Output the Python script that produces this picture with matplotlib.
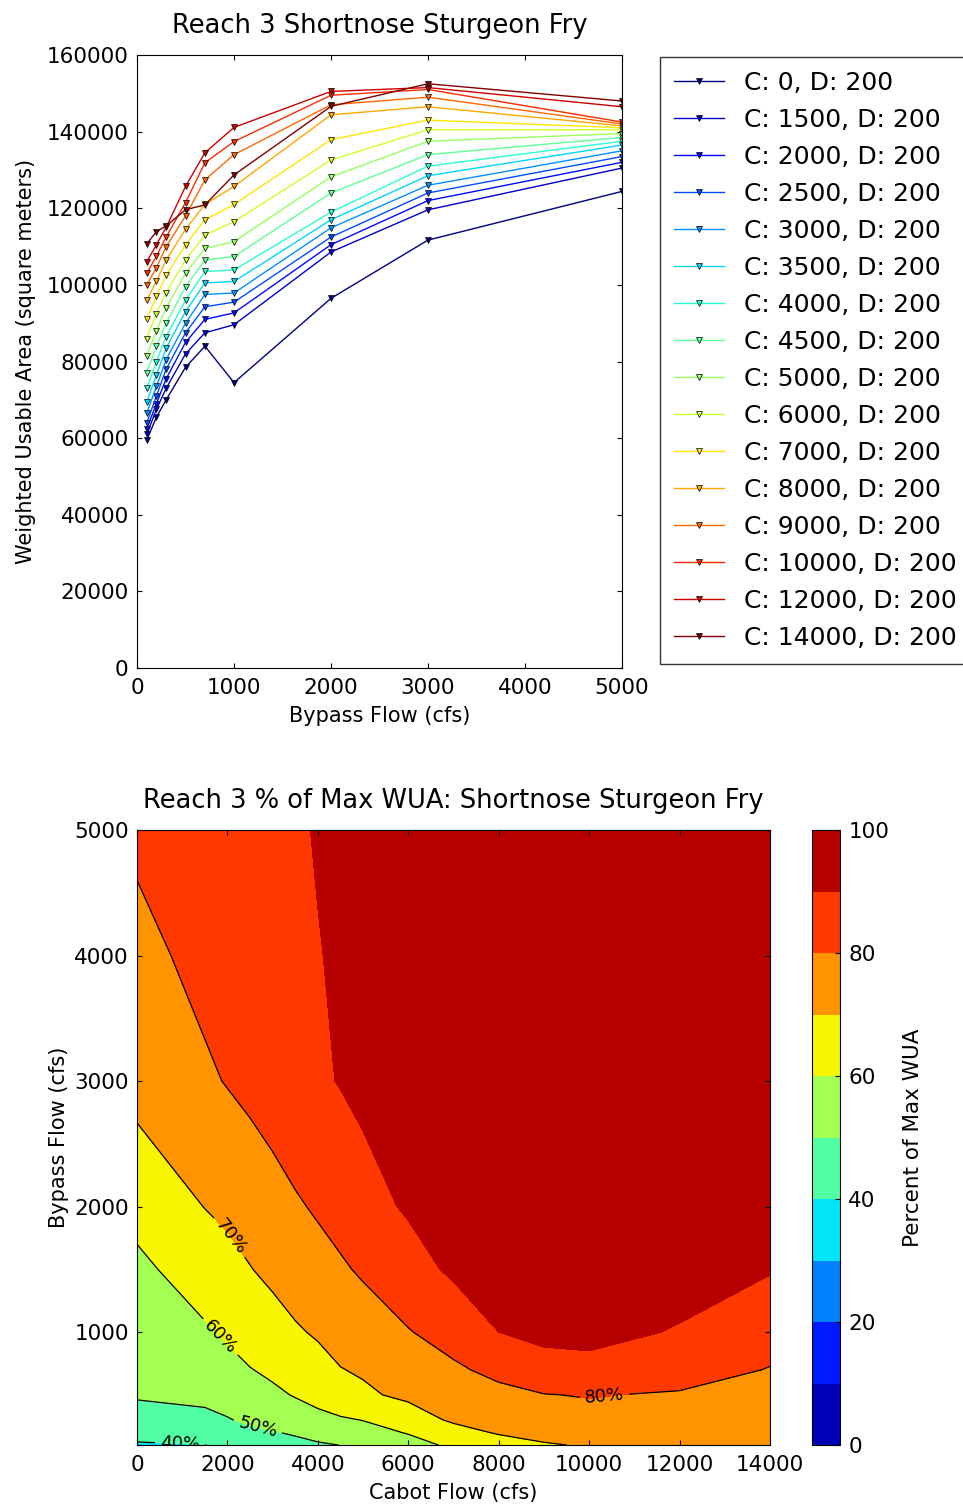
import numpy as np
import matplotlib
matplotlib.use('Agg')
from matplotlib import pyplot as plt

# Bypass flows sampled for the WUA curves
bypass = [100, 200, 300, 500, 700, 1000, 2000, 3000, 5000]

# Cabot flows (one curve each, D: 200)
cabot = [0, 1500, 2000, 2500, 3000, 3500, 4000, 4500, 5000, 6000, 7000, 8000, 9000, 10000, 12000, 14000]

# Weighted usable area (thousand square meters)
wua_c0 = [59.5, 65.5, 70.0, 78.5, 84.0, 74.5, 96.5, 111.7, 124.4]
wua_c1500 = [61.0, 67.5, 73.0, 82.0, 87.5, 89.6, 108.6, 119.6, 130.5]
wua_c2000 = [62.5, 69.0, 75.5, 85.0, 91.0, 92.7, 110.5, 122.0, 132.0]
wua_c2500 = [64.0, 71.0, 78.0, 87.5, 94.3, 95.5, 112.5, 124.0, 133.5]
wua_c3000 = [66.5, 73.5, 80.5, 90.0, 97.5, 97.9, 114.9, 126.0, 135.0]
wua_c3500 = [69.5, 76.5, 83.5, 93.0, 100.5, 100.9, 117.0, 128.5, 136.5]
wua_c4000 = [73.0, 80.0, 86.5, 96.0, 103.5, 103.9, 119.0, 131.0, 137.5]
wua_c4500 = [77.0, 84.0, 90.0, 99.5, 106.5, 107.4, 124.0, 134.0, 138.5]
wua_c5000 = [81.5, 88.0, 94.0, 103.0, 109.5, 111.3, 128.2, 137.5, 139.5]
wua_c6000 = [86.0, 92.5, 98.0, 106.5, 113.0, 116.5, 132.6, 140.5, 140.5]
wua_c7000 = [91.0, 97.0, 102.5, 110.5, 117.0, 121.0, 137.9, 143.0, 141.0]
wua_c8000 = [96.0, 101.0, 106.5, 114.5, 121.0, 125.7, 144.4, 146.5, 141.5]
wua_c9000 = [100.0, 104.5, 110.0, 118.0, 127.4, 134.0, 147.0, 149.0, 142.0]
wua_c10000 = [103.0, 107.5, 112.5, 121.5, 131.9, 137.4, 149.5, 151.0, 142.5]
wua_c12000 = [106.0, 110.5, 115.0, 125.7, 134.5, 141.1, 150.5, 151.5, 146.5]
wua_c14000 = [110.7, 113.9, 115.4, 119.6, 120.9, 128.7, 146.6, 152.5, 148.0]

wua_series = [wua_c0, wua_c1500, wua_c2000, wua_c2500, wua_c3000, wua_c3500,
              wua_c4000, wua_c4500, wua_c5000, wua_c6000, wua_c7000, wua_c8000,
              wua_c9000, wua_c10000, wua_c12000, wua_c14000]

# Percent of max WUA grid for the contour plot (rows: bypass, cols: cabot)
grid_bypass = [100, 200, 300, 500, 700, 1000, 1500, 2000, 3000, 4000, 5000]
pct_b100 = [39, 39.9, 41.5, 43.5, 45.5, 47.5, 49, 50.1, 52, 57, 61.5, 65, 69, 71, 72, 71]
pct_b200 = [43, 45, 46.5, 48, 49.5, 51, 53, 55.5, 57, 60.5, 66, 71, 73.5, 75, 74, 72]
pct_b300 = [46, 48, 49.5, 51.5, 54, 56, 57.5, 59, 60.2, 65, 71.5, 74, 76, 77, 76, 74]
pct_b500 = [51, 52, 53.5, 56, 58.5, 60.5, 63, 66, 68.5, 72, 75, 77.5, 79.7, 80.5, 79, 76.5]
pct_b700 = [52, 56, 58, 59.7, 61.5, 64.5, 67, 69.7, 71, 74.5, 78.5, 82.5, 87, 88, 85, 79.5]
pct_b1000 = [55, 59, 61, 64, 66.5, 69, 71, 73.5, 76, 79.5, 84, 90, 92, 92, 89.5, 85]
pct_b1500 = [58, 64.5, 67, 69.7, 72, 74.5, 77, 79, 81, 86.5, 91.5, 94, 95, 95, 93, 90.5]
pct_b2000 = [63, 70.2, 72, 74, 76.5, 79, 81, 83, 87, 91, 94, 96, 97, 97.5, 97, 96]
pct_b3000 = [73.5, 78.5, 80.5, 82.5, 84.5, 86.5, 88.5, 90.5, 92, 94, 96, 97, 98, 98, 98, 97]
pct_b4000 = [77, 83, 84, 85.5, 87, 88.5, 89.7, 91, 92.5, 94, 96, 97, 98, 98, 98, 97]
pct_b5000 = [82, 85, 86, 87, 88, 89, 90.5, 92, 93, 95, 96, 97, 98, 98, 97, 97]

# where the contour labels sit (cabot, bypass)
label_spots = [(950, 135), (2680, 260), (1900, 980), (2060, 1760), (10350, 450)]

plt.rcParams['xtick.direction'] = 'in'
plt.rcParams['ytick.direction'] = 'in'
plt.rcParams['xtick.top'] = True
plt.rcParams['ytick.right'] = True
plt.rcParams['font.family'] = ['DejaVu Sans']

fig = plt.figure(figsize=(9.63, 15.07), dpi=100)
ax1 = fig.add_axes([0.1423, 0.5567, 0.5036, 0.4068])
ax2 = fig.add_axes([0.1423, 0.0411, 0.6573, 0.4081])
cax = fig.add_axes([0.8432, 0.0411, 0.0291, 0.4081])

# Top: WUA vs bypass flow
colors = plt.cm.jet(np.linspace(0, 1, len(cabot)))
for c, vals, col in zip(cabot, wua_series, colors):
    ax1.plot(bypass, np.array(vals) * 1000, color=col, marker='v', markersize=5,
             markeredgecolor='k', markeredgewidth=0.5,
             linewidth=1, label='C: %d, D: 200' % c)
ax1.set_xlim(0, 5000)
ax1.set_ylim(0, 160000)
ax1.set_xticks(range(0, 5001, 1000))
ax1.set_yticks(range(0, 160001, 20000))
ax1.tick_params(axis='x', labelsize=15.5, pad=7)
ax1.tick_params(axis='y', labelsize=15.5, pad=6)
ax1.set_title('Reach 3 Shortnose Sturgeon Fry', fontsize=18.5, pad=16)
ax1.set_xlabel('Bypass Flow (cfs)', fontsize=15, labelpad=6)
ax1.set_ylabel('Weighted Usable Area (square meters)', fontsize=15, labelpad=8)
ax1.legend(loc='upper left', bbox_to_anchor=(660 / 963, 1 - 57 / 1507),
           bbox_transform=fig.transFigure, fontsize=18, fancybox=False,
           edgecolor='k', labelspacing=0.52, borderpad=0.55, handlelength=2.0,
           handletextpad=0.8, borderaxespad=0)

# Bottom: percent of max WUA contour
pct = np.array([pct_b100, pct_b200, pct_b300, pct_b500, pct_b700, pct_b1000,
                pct_b1500, pct_b2000, pct_b3000, pct_b4000, pct_b5000])
X, Y = np.meshgrid(cabot, grid_bypass)
levels = np.arange(0, 101, 10)
cf = ax2.contourf(X, Y, pct, levels=levels, cmap='jet')
cs = ax2.contour(X, Y, pct, levels=[40, 50, 60, 70, 80], colors='k', linewidths=0.9)
ax2.clabel(cs, fmt='%d%%', fontsize=13, manual=label_spots)
ax2.set_xlim(0, 14000)
ax2.set_ylim(100, 5000)
ax2.set_xticks(range(0, 14001, 2000))
ax2.set_yticks(range(1000, 5001, 1000))
ax2.tick_params(axis='x', labelsize=15.5, pad=7)
ax2.tick_params(axis='y', labelsize=15.5, pad=6)
ax2.set_title('Reach 3 % of Max WUA: Shortnose Sturgeon Fry', fontsize=18.5, pad=16)
ax2.set_xlabel('Cabot Flow (cfs)', fontsize=15, labelpad=6)
ax2.set_ylabel('Bypass Flow (cfs)', fontsize=15)

cb = fig.colorbar(cf, cax=cax, ticks=range(0, 101, 20))
cb.ax.tick_params(labelsize=15.5, pad=6)
cb.set_label('Percent of Max WUA', fontsize=15.5, labelpad=10)

fig.savefig('out.png', dpi=100)
